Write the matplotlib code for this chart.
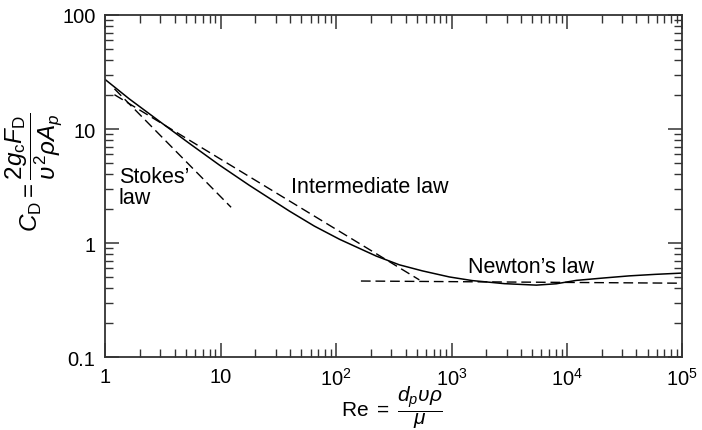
import numpy as np
import matplotlib.pyplot as plt

plt.rcParams['font.family'] = ['Liberation Sans', 'DejaVu Sans']
plt.rcParams['mathtext.fontset'] = 'custom'
plt.rcParams['mathtext.rm'] = 'Liberation Sans'
plt.rcParams['mathtext.it'] = 'Liberation Sans:italic'
plt.rcParams['mathtext.bf'] = 'Liberation Sans:bold'

# drag curve
re_curve = [1.0, 1.61, 2.94, 5.35, 9.72, 17.7, 39.3, 64.7, 107, 223, 353, 558,
            957, 1514, 2869, 5430, 8090, 12050, 21100, 34750, 58300, 1e5]
cd_curve = [27.1, 18.4, 11.7, 7.48, 4.84, 3.21, 1.91, 1.41, 1.08, 0.769, 0.645, 0.571,
            0.505, 0.469, 0.441, 0.428, 0.440, 0.471, 0.495, 0.516, 0.532, 0.546]

# asymptotic laws (dashed), endpoints only
re_stokes = [1.2, 12.3]
cd_stokes = [22.5, 2.06]
re_inter = [1.2, 526]
cd_inter = [20.0, 0.476]
re_newton = [164, 1e5]
cd_newton = [0.465, 0.445]

x_ticks = [1, 10, 1e2, 1e3, 1e4, 1e5]
x_ticklabels = ['1', '10', r'$10^2$', r'$10^3$', r'$10^4$', r'$10^5$']
y_ticks = [0.1, 1, 10, 100]
y_ticklabels = ['0.1', '1', '10', '100']

fig = plt.figure(figsize=(7.02, 4.31), dpi=100)
ax = fig.add_axes([0.150, 0.169, 0.822, 0.794])

ax.plot(re_curve, cd_curve, color='black', lw=1.1)
for xs, ys in [(re_stokes, cd_stokes), (re_inter, cd_inter), (re_newton, cd_newton)]:
    ax.plot(xs, ys, color='black', lw=1.0, dashes=(7, 3.5))

ax.set_xscale('log')
ax.set_yscale('log')
ax.set_xlim(1, 1e5)
ax.set_ylim(0.1, 100)
ax.set_xticks(x_ticks)
ax.set_xticklabels(x_ticklabels)
ax.set_yticks(y_ticks)
ax.set_yticklabels(y_ticklabels)

ax.tick_params(which='both', direction='in', top=True, right=True,
               color='#333333', labelsize=14.5, pad=7)
ax.tick_params(which='major', length=10, width=1.1)
ax.tick_params(which='minor', length=6, width=1.0)
for s in ax.spines.values():
    s.set_color('#333333')
    s.set_linewidth(1.3)

ax.set_xlabel(r'Re$\,$ = $\,\dfrac{d_p\upsilon\rho}{\mu}$', fontsize=15)
ax.xaxis.set_label_coords(0.497, -0.078)
ax.set_ylabel(r'$C_{\mathrm{D}} = \dfrac{2g_{\mathrm{c}}F_{\mathrm{D}}}{\upsilon^2\rho A_p}$',
              fontsize=17.5)
ax.yaxis.set_label_coords(-0.072, 0.544)

ax.text(0.023, 0.513, 'Stokes\u2019', transform=ax.transAxes, fontsize=15.5, va='baseline')
ax.text(0.023, 0.450, 'law', transform=ax.transAxes, fontsize=15.5, va='baseline')
ax.text(0.322, 0.483, 'Intermediate law', transform=ax.transAxes, fontsize=15.5, va='baseline')
ax.text(0.628, 0.248, 'Newton\u2019s law', transform=ax.transAxes, fontsize=15.5, va='baseline')

plt.savefig('out.png', dpi=100)
